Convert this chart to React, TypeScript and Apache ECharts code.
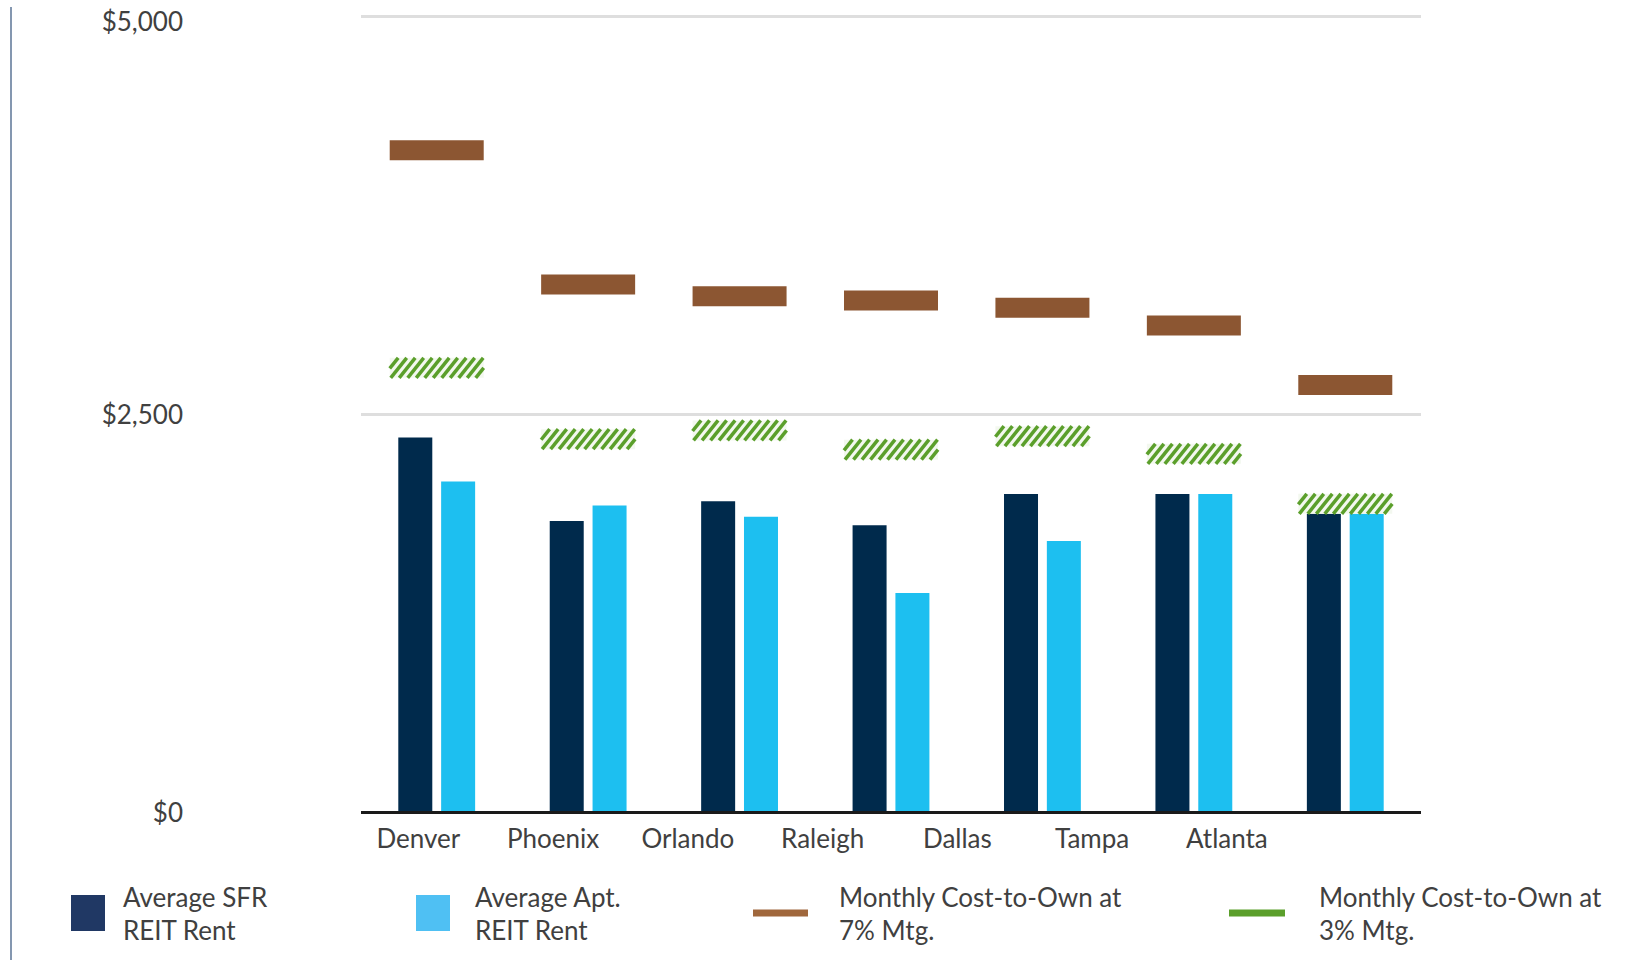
import React, { useEffect, useRef } from "react";
import * as echarts from "echarts";

const cities = ["Denver", "Phoenix", "Orlando", "Raleigh", "Dallas", "Tampa", "Atlanta"];
const tickLabels = ["Denver", "Phoenix", "Orlando", "Raleigh", "Dallas", "Tampa", "Atlanta", ""];
const sfrRent = [2352, 1828, 1952, 1801, 1998, 1998, 1873];
const aptRent = [2076, 1926, 1854, 1376, 1703, 1998, 1873];
const costOwn7 = [4156, 3314, 3239, 3213, 3167, 3056, 2682];
const costOwn3 = [2790, 2342, 2397, 2276, 2361, 2250, 1936];

const NAME_SFR = "Average SFR REIT Rent";
const NAME_APT = "Average Apt. REIT Rent";
const NAME_7 = "Monthly Cost-to-Own at 7% Mtg.";
const NAME_3 = "Monthly Cost-to-Own at 3% Mtg.";
const legendLines: Record<string, string> = {
  [NAME_SFR]: "Average SFR\nREIT Rent",
  [NAME_APT]: "Average Apt.\nREIT Rent",
  [NAME_7]: "Monthly Cost-to-Own at\n7% Mtg.",
  [NAME_3]: "Monthly Cost-to-Own at\n3% Mtg.",
};

const FONT = "Lato";
const TXT = "#404040";

export default function App() {
  const ref = useRef<HTMLDivElement>(null);
  useEffect(() => {
    document.body.style.margin = "0";
    const chart = echarts.init(ref.current!, null, { renderer: "svg" });
    const legendText = (pad: number) => ({
      fontFamily: FONT,
      fontSize: 26,
      lineHeight: 33,
      color: TXT,
      padding: [0, 0, 0, pad],
    });
    const mkLegend = (name: string, left: number, w: number, h: number, color: string, pad: number) => ({
      show: true,
      left,
      top: 880,
      padding: 0,
      itemWidth: w,
      itemHeight: h,
      icon: "rect",
      selectedMode: false,
      formatter: (n: string) => legendLines[n] || n,
      textStyle: legendText(pad),
      data: [{ name, icon: "rect", itemStyle: { color, borderWidth: 0 } }],
    });
    chart.setOption({
      animation: false,
      backgroundColor: "#ffffff",
      grid: [
        { left: 361, right: 214, top: 16, bottom: 148, containLabel: false },
        { left: 351, right: 206, top: 16, bottom: 148, containLabel: false },
      ],
      legend: [
        mkLegend(NAME_SFR, 71, 34, 36, "#203864", 13),
        mkLegend(NAME_APT, 416, 34, 36, "#4fc0f3", 20),
        mkLegend(NAME_7, 753, 55, 7, "#a0673c", 26),
        mkLegend(NAME_3, 1229, 56, 7, "#5b9f2b", 29),
      ],
      xAxis: [
        {
          type: "category",
          gridIndex: 0,
          data: cities,
          axisLine: { show: false },
          axisTick: { show: false },
          axisLabel: { show: false },
        },
        {
          type: "category",
          gridIndex: 1,
          data: tickLabels,
          position: "bottom",
          axisLine: { show: false },
          axisTick: { show: false },
          axisLabel: { fontFamily: FONT, fontSize: 26, color: TXT, margin: 13, interval: 0 },
        },
      ],
      yAxis: [
        {
          type: "value",
          gridIndex: 0,
          min: 0,
          max: 5000,
          interval: 2500,
          axisLine: { show: false },
          axisTick: { show: false },
          axisLabel: {
            fontFamily: FONT,
            fontSize: 26,
            color: TXT,
            margin: 178,
            formatter: (v: number) => {
              const s = "$" + v.toLocaleString("en-US");
              return v === 5000 ? "{top|" + s + "}" : s;
            },
            rich: {
              top: { fontFamily: FONT, fontSize: 26, color: TXT, padding: [10, 0, 0, 0] },
            },
          },
          splitLine: { show: false },
        },
        {
          type: "value",
          gridIndex: 1,
          min: 0,
          max: 5000,
          interval: 2500,
          axisLine: { show: false },
          axisTick: { show: false },
          axisLabel: { show: false },
          splitLine: { show: false },
        },
      ],
      graphic: [
        {
          type: "line",
          shape: { x1: 11, y1: 7, x2: 11, y2: 960 },
          style: { stroke: "#8497b0", lineWidth: 2 },
        },
      ],
      series: [
        {
          name: "gridlines",
          type: "line",
          xAxisIndex: 0,
          yAxisIndex: 0,
          data: [],
          silent: true,
          markLine: {
            silent: true,
            symbol: "none",
            label: { show: false },
            data: [
              { yAxis: 2500, lineStyle: { color: "#dedede", width: 3, type: "solid" } },
              { yAxis: 5000, lineStyle: { color: "#dedede", width: 3, type: "solid" } },
              { yAxis: 0, lineStyle: { color: "#1a1a1a", width: 3, type: "solid" } },
            ],
          },
          z: 1,
        },
        {
          name: NAME_SFR,
          type: "bar",
          data: sfrRent,
          barWidth: 34,
          barGap: "26%",
          itemStyle: { color: "#002a4c" },
          z: 2,
        },
        {
          name: NAME_APT,
          type: "bar",
          data: aptRent,
          barWidth: 34,
          itemStyle: { color: "#1dbff0" },
          z: 2,
        },
        {
          name: NAME_7,
          type: "scatter",
          data: costOwn7.map((v, i) => [i, v]),
          symbol: "rect",
          symbolSize: [94, 20],
          itemStyle: { color: "#8c5632", opacity: 1 },
          z: 5,
        },
        {
          name: NAME_3,
          type: "custom",
          data: costOwn3.map((v, i) => [i, v]),
          encode: { x: 0, y: 1 },
          itemStyle: { color: "#5b9f2b" },
          z: 5,
          renderItem: (params: any, api: any) => {
            const p = api.coord([api.value(0), api.value(1)]);
            const w = 94, h = 20;
            const x0 = p[0] - w / 2, x1 = p[0] + w / 2;
            const yTop = p[1] - h / 2, yBot = p[1] + h / 2;
            const d = 16, step = 8.5;
            const children: any[] = [
              { type: "rect", shape: { x: x0, y: yTop, width: w, height: h }, style: { fill: "#f3f8ef" } },
            ];
            for (let b = x0 - d; b < x1; b += step) {
              const tmin = Math.max(0, (x0 - b) / d);
              const tmax = Math.min(1, (x1 - b) / d);
              if (tmax <= tmin) continue;
              children.push({
                type: "line",
                shape: { x1: b + d * tmin, y1: yBot - h * tmin, x2: b + d * tmax, y2: yBot - h * tmax },
                style: { stroke: "#5b9f2b", lineWidth: 3.5 },
              });
            }
            return { type: "group", children };
          },
        },
      ],
    });
    return () => chart.dispose();
  }, []);
  return <div ref={ref} style={{ width: 1635, height: 960 }} />;
}
